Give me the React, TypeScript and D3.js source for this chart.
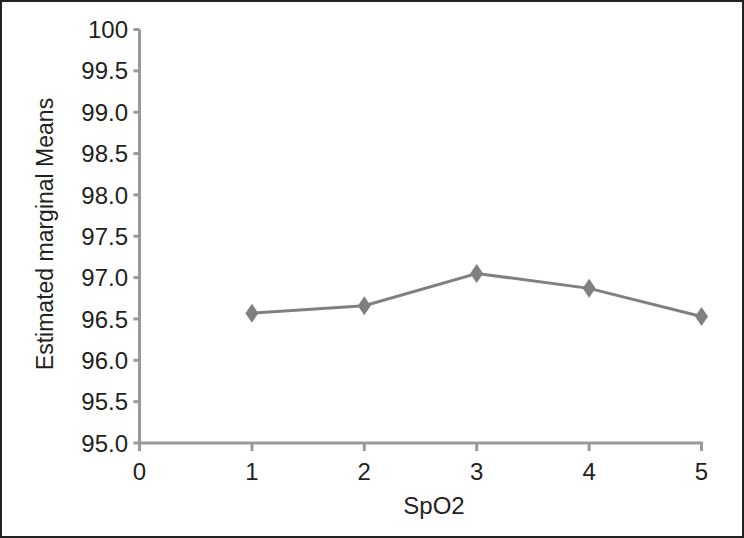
import React from "react";
import * as d3 from "d3";

const categories = [1, 2, 3, 4, 5];
const meanValues = [96.57, 96.66, 97.05, 96.87, 96.53];
const xTickValues = [0, 1, 2, 3, 4, 5];
const yTickValues = [95, 95.5, 96, 96.5, 97, 97.5, 98, 98.5, 99, 99.5, 100];
const yTickLabels = ["95.0", "95.5", "96.0", "96.5", "97.0", "97.5", "98.0", "98.5", "99.0", "99.5", "100"];
const xTitle = "SpO2";
const yTitle = "Estimated marginal Means";

const W = 744;
const H = 538;

export default function App() {
  const x = d3.scaleLinear().domain([0, 5]).range([139.5, 701.5]);
  const y = d3.scaleLinear().domain([95, 100]).range([443, 29.5]);
  const line = d3
    .line<number>()
    .x((_, i) => x(categories[i]))
    .y((d) => y(d));
  const axisColor = "#999999";
  const textColor = "#231f20";
  const font = "Arial, 'Liberation Sans', sans-serif";
  const diamond = (cx: number, cy: number) =>
    `M${cx},${cy - 9.5}L${cx + 6.5},${cy}L${cx},${cy + 9.5}L${cx - 6.5},${cy}Z`;

  return (
    <svg
      width={W}
      height={H}
      style={{ position: "absolute", left: 0, top: 0, background: "#fff" }}
    >
      <rect x={1} y={1} width={W - 2} height={H - 2} fill="#fff" stroke="#222" strokeWidth={2} />
      {/* y axis */}
      <line x1={x(0)} x2={x(0)} y1={y(100)} y2={y(95) + 1.5} stroke={axisColor} strokeWidth={3} />
      {yTickValues.map((v, i) => (
        <g key={"yt" + i}>
          <line x1={x(0) - 6} x2={x(0)} y1={y(v)} y2={y(v)} stroke={axisColor} strokeWidth={3} />
          <text
            x={128}
            y={y(v)}
            dy="0.36em"
            textAnchor="end"
            fontFamily={font}
            fontSize={24}
            fill={textColor}
          >
            {yTickLabels[i]}
          </text>
        </g>
      ))}
      {/* x axis */}
      <line x1={x(0) - 1.5} x2={x(5) + 1.5} y1={y(95)} y2={y(95)} stroke={axisColor} strokeWidth={3} />
      {xTickValues.map((v) => (
        <g key={"xt" + v}>
          <line x1={x(v)} x2={x(v)} y1={y(95)} y2={y(95) + 8} stroke={axisColor} strokeWidth={3} />
          <text
            x={x(v)}
            y={480}
            textAnchor="middle"
            fontFamily={font}
            fontSize={24}
            fill={textColor}
          >
            {v}
          </text>
        </g>
      ))}
      <text x={434} y={514} textAnchor="middle" fontFamily={font} fontSize={24} fill={textColor}>
        {xTitle}
      </text>
      <text
        transform={`translate(53,234) rotate(-90)`}
        textAnchor="middle"
        fontFamily={font}
        fontSize={23}
        fill={textColor}
      >
        {yTitle}
      </text>
      <path d={line(meanValues) || ""} fill="none" stroke="#808080" strokeWidth={3} />
      {meanValues.map((v, i) => (
        <path key={"m" + i} d={diamond(x(categories[i]), y(v))} fill="#808080" />
      ))}
    </svg>
  );
}
